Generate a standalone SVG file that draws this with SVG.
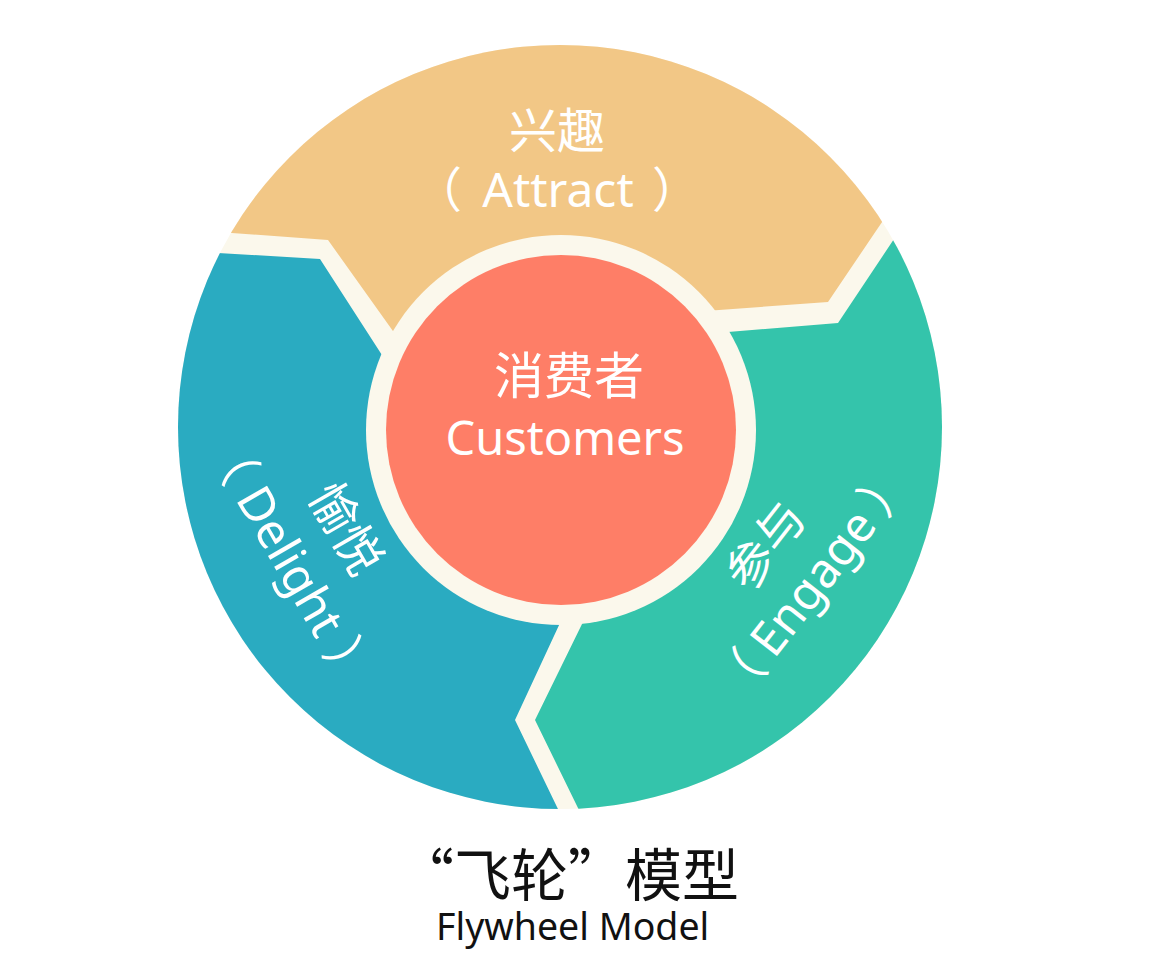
<svg xmlns="http://www.w3.org/2000/svg" width="1160" height="977" viewBox="0 0 1160 977">
<defs>
<clipPath id="wheelClip"><circle cx="560" cy="427" r="382"/></clipPath>
<style>
.lbl{font-family:"Noto Sans","Noto Sans CJK SC",sans-serif;fill:#ffffff;font-size:48px;}
.mid{text-anchor:middle;}
.title{font-family:"Noto Sans CJK SC","Noto Sans",sans-serif;fill:#111111;}
.sub{font-family:"Noto Sans","Noto Sans CJK SC",sans-serif;fill:#111111;}
</style>
</defs>
<rect x="0" y="0" width="1160" height="977" fill="#ffffff"/>
<g id="wheel-base"><circle cx="560" cy="427" r="382" fill="#FBF8EC"/></g>
<g id="attract">
<polygon clip-path="url(#wheelClip)" fill="#F2C786" points="150,227 328,240 450,411 560,430 650,315 828,302 930,151 930,0 150,0"/>
<text class="lbl mid" x="557" y="148">兴趣</text>
<text class="lbl mid" x="438" y="207">（</text>
<text class="lbl mid" x="558" y="207">Attract</text>
<text class="lbl mid" x="676" y="207">）</text>
</g>
<g id="engage">
<polygon clip-path="url(#wheelClip)" fill="#34C4AB" points="940,170 838,323 620,341 561,430 600,587 583,622 535,720 578,808 600,853 1000,853 1000,170"/>
<g transform="translate(816,585) rotate(-52)">
<text class="lbl mid" x="0" y="-47">参与</text>
<text class="lbl mid" x="-119" y="13">（</text>
<text class="lbl mid" x="0" y="13">Engage</text>
<text class="lbl mid" x="119" y="13">）</text>
</g>
</g>
<g id="delight">
<polygon clip-path="url(#wheelClip)" fill="#2AABC1" points="120,247 320,259 440,445 575,590 560,623 515,720 557,807 580,855 120,855"/>
<g transform="translate(287,563) rotate(60)">
<text class="lbl mid" x="0" y="-51">愉悦</text>
<text class="lbl mid" x="-119" y="13">（</text>
<text class="lbl mid" x="0" y="13">Delight</text>
<text class="lbl mid" x="119" y="13">）</text>
</g>
</g>
<g id="customers">
<circle cx="561" cy="430" r="195" fill="#FBF8EC"/>
<circle cx="561" cy="430" r="175" fill="#FE7E67"/>
<text class="lbl mid" x="569" y="394" style="font-size:50px">消费者</text>
<text class="lbl mid" x="565" y="455" style="font-size:47px">Customers</text>
</g>
<g id="connectors"></g>
<g id="caption">
<text class="title" x="397" y="896" style="font-size:57px">“飞轮”模型</text>
<text class="sub" x="436" y="940" style="font-size:37.5px">Flywheel Model</text>
</g>
</svg>
